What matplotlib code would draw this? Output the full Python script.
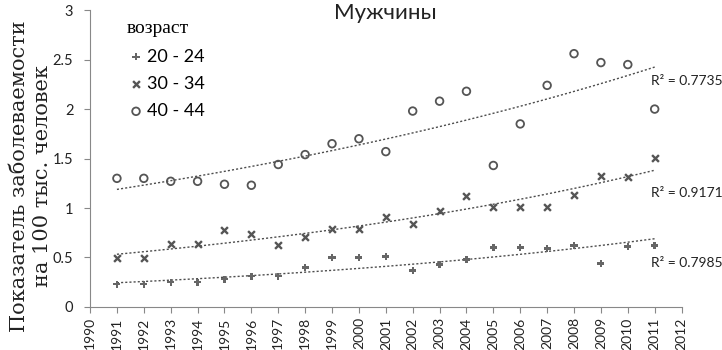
import numpy as np
import matplotlib
matplotlib.use("Agg")
import matplotlib.pyplot as plt

years = np.arange(1991, 2012)

# rates per 100k
age_20_24 = [0.23, 0.23, 0.25, 0.25, 0.28, 0.31, 0.31, 0.40, 0.50, 0.50, 0.51,
             0.37, 0.43, 0.48, 0.60, 0.60, 0.59, 0.62, 0.44, 0.61, 0.62]
age_30_34 = [0.49, 0.49, 0.64, 0.64, 0.78, 0.74, 0.63, 0.71, 0.79, 0.79, 0.91,
             0.84, 0.97, 1.12, 1.01, 1.01, 1.01, 1.13, 1.32, 1.31, 1.51]
age_40_44 = [1.30, 1.30, 1.27, 1.27, 1.24, 1.23, 1.44, 1.54, 1.65, 1.70, 1.57,
             1.98, 2.08, 2.18, 1.43, 1.85, 2.24, 2.56, 2.47, 2.45, 2.00]

labels = ["20 - 24", "30 - 34", "40 - 44"]
r2_text = ["R² = 0.7985", "R² = 0.9171", "R² = 0.7735"]
r2_y = [0.44, 1.15, 2.28]

sans = ["Lato", "DejaVu Sans"]
serif = ["DejaVu Serif"]
col = "#4d4d4d"

fig = plt.figure(figsize=(7.22, 3.5), dpi=100)
ax = fig.add_axes([0.1247, 0.123, 0.8193, 0.848])

styles = [
    dict(marker="P", s=26, facecolors="#666666", edgecolors="none"),
    dict(marker="x", s=24, color="#555555", linewidths=1.7),
    dict(marker="o", s=30, facecolors="none", edgecolors="#555555", linewidths=1.3),
]

handles = []
for vals, lab, st, rt, ry in zip([age_20_24, age_30_34, age_40_44], labels, styles, r2_text, r2_y):
    vals = np.array(vals)
    h = ax.scatter(years, vals, label=lab, zorder=3, **st)
    handles.append(h)
    # exponential trendline like Excel
    b, a = np.polyfit(years - 1990, np.log(vals), 1)
    xt = np.linspace(1991, 2011, 100)
    ax.plot(xt, np.exp(a + b * (xt - 1990)), linestyle=(0, (1.5, 1.5)), color=col, lw=1.0, zorder=2)
    ax.text(2010.85, ry, rt, fontsize=10, family=sans, color="#222222", ha="left", va="center",
            clip_on=False)

ax.set_xlim(1990, 2012)
ax.set_ylim(0, 3)
ax.set_xticks(np.arange(1990, 2013))
ax.set_xticklabels([str(y) for y in range(1990, 2013)], rotation=90, family=sans, fontsize=10)
ax.set_yticks([0, 0.5, 1, 1.5, 2, 2.5, 3])
ax.set_yticklabels(["0", "0.5", "1", "1.5", "2", "2.5", "3"], family=sans, fontsize=10.5)

for s in ["top", "right"]:
    ax.spines[s].set_visible(False)
for s in ["left", "bottom"]:
    ax.spines[s].set_color("#888888")
ax.tick_params(axis="both", direction="out", length=4, color="#888888", labelcolor="#222222")
ax.tick_params(axis="y", pad=8)

ax.set_ylabel("Показатель заболеваемости\nна 100 тыс. человек", family=serif, fontsize=15,
              color="#222222", linespacing=1.25)
ax.yaxis.set_label_coords(-0.064, 0.44)

fig.text(0.533, 0.963, "Мужчины", family=sans, fontsize=16, ha="center", va="center",
         color="#222222")

leg = ax.legend(handles=handles, title="возраст", loc="upper left", bbox_to_anchor=(0.035, 1.02),
                frameon=False, handletextpad=0.1, handlelength=1.0, labelspacing=0.62,
                prop={"family": sans, "size": 13})
leg._legend_box.align = "left"
leg.get_title().set_fontfamily(["Liberation Serif"])
leg.get_title().set_fontsize(14)

fig.savefig("out.png", dpi=100)
